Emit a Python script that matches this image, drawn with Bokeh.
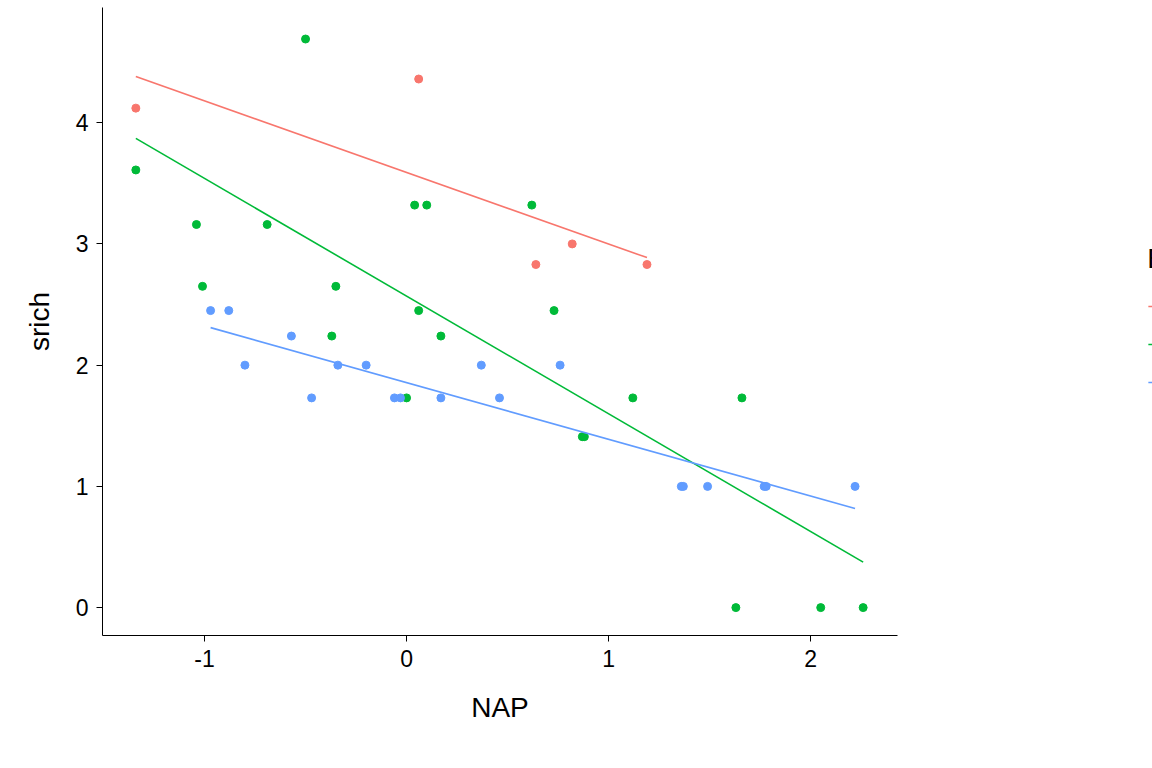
import numpy as np
from bokeh.plotting import figure
from bokeh.models import FixedTicker, Legend, LegendItem, Range1d, CustomJSTickFormatter
from bokeh.embed import file_html
from bokeh.resources import INLINE

# Exposure 8
nap_8 = [-1.34, 0.06, 0.64, 0.82, 1.19]
srich_8 = [4.12, 4.36, 2.83, 3.00, 2.83]
# Exposure 10
nap_10 = [-1.34, -1.04, -1.01, -0.69, -0.50, -0.37, -0.35, 0.00, 0.04, 0.10, 0.06,
          0.17, 0.62, 0.73, 0.87, 0.88, 1.12, 1.63, 1.66, 2.05, 2.26]
srich_10 = [3.61, 3.16, 2.65, 3.16, 4.69, 2.24, 2.65, 1.73, 3.32, 3.32, 2.45,
            2.24, 3.32, 2.45, 1.41, 1.41, 1.73, 0.00, 1.73, 0.00, 0.00]
# Exposure 11
nap_11 = [-0.97, -0.88, -0.80, -0.57, -0.47, -0.34, -0.20, -0.06, -0.03, 0.17,
          0.37, 0.46, 0.76, 1.36, 1.37, 1.49, 1.77, 1.78, 2.22]
srich_11 = [2.45, 2.45, 2.00, 2.24, 1.73, 2.00, 2.00, 1.73, 1.73, 1.73,
            2.00, 1.73, 2.00, 1.00, 1.00, 1.00, 1.00, 1.00, 1.00]

groups = [("8", nap_8, srich_8, "#F8766D"),
          ("10", nap_10, srich_10, "#00BA38"),
          ("11", nap_11, srich_11, "#619CFF")]

FONT = "Liberation Sans"

p = figure(frame_width=795, frame_height=628, output_backend="svg", toolbar_location=None,
           x_range=Range1d(-1.505, 2.43), y_range=Range1d(-0.23, 4.95),
           min_border_left=102, min_border_right=10, min_border_top=7, min_border_bottom=117)
p.outline_line_color = None
p.xgrid.visible = False
p.ygrid.visible = False

items = []
for name, xs, ys, col in groups:
    xs = np.array(xs)
    ys = np.array(ys)
    k, b = np.polyfit(xs, ys, 1)
    lx = np.array([xs.min(), xs.max()])
    ln = p.line(lx, k * lx + b, line_color=col, line_width=1.6)
    sc = p.scatter(xs, ys, size=8, fill_color=col, line_color=col)
    items.append(LegendItem(label=name, renderers=[ln, sc]))

p.xaxis.ticker = FixedTicker(ticks=[-1, 0, 1, 2])
p.yaxis.ticker = FixedTicker(ticks=[0, 1, 2, 3, 4])
p.xaxis.formatter = CustomJSTickFormatter(code="return String(tick);")
p.xaxis.axis_label = "NAP"
p.yaxis.axis_label = "srich"
p.xaxis.axis_label_standoff = 22
p.yaxis.axis_label_standoff = 18
for ax in (p.xaxis, p.yaxis):
    ax.minor_tick_line_color = None
    ax.major_tick_in = 0
    ax.major_tick_out = 6
    ax.major_label_standoff = 8
    ax.major_tick_line_color = "black"
    ax.axis_line_color = "black"
    ax.major_label_text_font = FONT
    ax.major_label_text_font_size = "23px"
    ax.major_label_text_color = "black"
    ax.axis_label_text_font = FONT
    ax.axis_label_text_font_size = "28px"
    ax.axis_label_text_font_style = "normal"
    ax.axis_label_text_color = "black"

legend = Legend(items=items, title="Exposure", location="center")
legend.title_text_font = FONT
legend.title_text_font_size = "28px"
legend.title_text_font_style = "normal"
legend.title_text_color = "black"
legend.title_standoff = 14
legend.label_text_font = FONT
legend.label_text_font_size = "23px"
legend.label_text_color = "black"
legend.border_line_color = None
legend.glyph_width = 30
legend.glyph_height = 34
legend.spacing = 4
legend.margin = 44
p.add_layout(legend, "right")

open("out.html", "w").write(file_html(p, INLINE))
